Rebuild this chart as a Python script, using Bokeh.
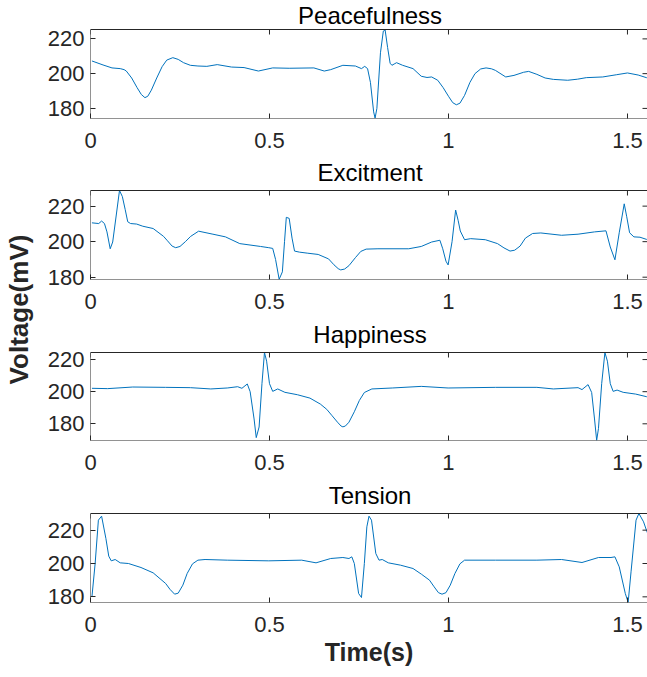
import math
from bokeh.plotting import figure
from bokeh.layouts import row, column
from bokeh.models import Range1d, FixedTicker, Label, BoxAnnotation
from bokeh.embed import file_html
from bokeh.resources import INLINE

# ---------------- data ----------------
TITLES = ["Peacefulness", "Excitment", "Happiness", "Tension"]
X_LABEL = "Time(s)"
Y_LABEL = "Voltage(mV)"
X_TICKS = [0, 0.5, 1, 1.5]
X_TICK_LABELS = ["0", "0.5", "1", "1.5"]
Y_TICKS = [180, 200, 220]
X_LIMITS = (0, 1.556)
Y_LIMITS = [(174.2, 225.4), (178.7, 228.8), (169.6, 224.4), (176.6, 230.0)]

peace_t = [0.004, 0.035, 0.06, 0.083, 0.094, 0.10, 0.115, 0.13, 0.142, 0.152, 0.16, 0.17,
           0.185, 0.2, 0.213, 0.23, 0.245, 0.26, 0.279, 0.3, 0.325, 0.354, 0.394, 0.429,
           0.469, 0.509, 0.555, 0.624, 0.653, 0.671, 0.705, 0.74, 0.757, 0.766, 0.774, 0.782,
           0.791, 0.795, 0.80, 0.81, 0.818, 0.823, 0.83, 0.837, 0.842, 0.848, 0.855, 0.872,
           0.901, 0.924, 0.94, 0.953, 0.97, 0.985, 1.0, 1.012, 1.022, 1.032, 1.045, 1.06,
           1.074, 1.09, 1.105, 1.12, 1.131, 1.16, 1.183, 1.21, 1.224, 1.247, 1.27, 1.293,
           1.333, 1.36, 1.385, 1.431, 1.47, 1.5, 1.53, 1.553, 1.562]
peace_v = [207.3, 205.0, 203.3, 202.9, 202.3, 201.5, 197.5, 192.0, 188.0, 186.2, 187.0, 190.5,
           197.5, 204.0, 207.8, 209.2, 208.2, 206.3, 204.8, 204.4, 204.2, 205.2, 203.8, 203.5,
           201.5, 203.3, 203.1, 203.3, 201.5, 202.3, 204.8, 204.4, 202.9, 204.2, 202.9, 195.0,
           178.0, 174.4, 180.0, 212.0, 224.5, 225.2, 215.0, 206.0, 204.8, 205.5, 206.3, 204.8,
           202.9, 198.5, 197.8, 198.1, 196.2, 192.0, 187.0, 183.3, 182.1, 183.0, 187.5, 195.0,
           200.0, 202.7, 203.3, 202.8, 201.9, 198.1, 199.0, 200.8, 201.3, 199.6, 197.5, 196.7,
           196.2, 196.8, 197.7, 198.1, 199.4, 200.4, 199.2, 197.7, 197.5]

excit_t = [0.004, 0.023, 0.031, 0.039, 0.046, 0.055, 0.062, 0.072, 0.081, 0.089, 0.097, 0.104,
           0.112, 0.129, 0.146, 0.175, 0.204, 0.215, 0.228, 0.238, 0.25, 0.265, 0.28, 0.302,
           0.342, 0.377, 0.417, 0.475, 0.498, 0.509, 0.517, 0.527, 0.536, 0.542, 0.547, 0.555,
           0.563, 0.57, 0.584, 0.607, 0.636, 0.665, 0.68, 0.692, 0.699, 0.71, 0.722, 0.74,
           0.755, 0.77, 0.803, 0.889, 0.924, 0.953, 0.976, 0.984, 0.993, 0.999, 1.01, 1.02,
           1.027, 1.033, 1.045, 1.062, 1.103, 1.137, 1.155, 1.172, 1.185, 1.2, 1.215, 1.235,
           1.258, 1.316, 1.362, 1.408, 1.44, 1.452, 1.465, 1.477, 1.491, 1.498, 1.506, 1.518,
           1.535, 1.553, 1.562]
excit_v = [210.6, 210.2, 211.6, 210.2, 205.5, 196.0, 199.8, 215.0, 228.8, 225.4, 218.0, 211.2,
           210.2, 209.9, 208.7, 207.4, 203.0, 200.5, 197.5, 196.6, 197.3, 200.0, 203.0, 205.9,
           204.2, 202.7, 198.9, 197.3, 196.6, 196.2, 190.0, 178.8, 183.0, 200.0, 213.7, 213.1,
           202.0, 194.7, 194.1, 193.5, 192.8, 190.3, 187.0, 184.8, 184.1, 184.6, 186.5, 191.0,
           194.5, 195.8, 196.0, 196.0, 197.3, 199.8, 200.8, 196.0, 189.0, 186.9, 200.0, 217.8,
           212.0, 206.0, 201.1, 201.7, 201.1, 198.9, 196.5, 194.7, 195.2, 197.5, 202.0, 204.6,
           204.9, 203.6, 204.2, 205.5, 206.1, 197.0, 189.8, 205.0, 221.3, 214.0, 205.0, 202.7,
           202.5, 201.3, 201.0]

happy_t = [0.004, 0.048, 0.118, 0.21, 0.279, 0.336, 0.382, 0.411, 0.423, 0.438, 0.446, 0.457,
           0.463, 0.471, 0.479, 0.486, 0.492, 0.5, 0.509, 0.523, 0.543, 0.578, 0.613, 0.642,
           0.66, 0.675, 0.69, 0.7, 0.705, 0.712, 0.722, 0.737, 0.751, 0.765, 0.786, 0.843,
           0.924, 0.999, 1.131, 1.247, 1.293, 1.362, 1.373, 1.39, 1.4, 1.408, 1.414, 1.419,
           1.428, 1.437, 1.444, 1.452, 1.46, 1.471, 1.488, 1.523, 1.553, 1.562]
happy_v = [202.1, 201.9, 202.9, 202.7, 202.5, 201.7, 202.3, 203.1, 202.1, 204.8, 200.0, 183.0,
           171.4, 178.0, 205.0, 224.4, 219.0, 205.0, 200.2, 201.7, 199.6, 198.1, 196.0, 192.3,
           189.0, 185.0, 181.0, 178.6, 178.1, 178.6, 181.0, 187.5, 194.5, 199.5, 201.7, 202.3,
           203.3, 202.3, 202.7, 202.7, 201.7, 202.5, 201.3, 204.4, 199.5, 183.0, 169.7, 177.0,
           205.0, 224.4, 219.0, 205.0, 200.2, 201.0, 199.6, 198.5, 196.9, 196.7]

tens_t = [0.004, 0.013, 0.022, 0.031, 0.043, 0.051, 0.058, 0.069, 0.083, 0.106, 0.141, 0.175,
          0.21, 0.222, 0.235, 0.245, 0.258, 0.27, 0.285, 0.3, 0.32, 0.382, 0.498, 0.59,
          0.63, 0.671, 0.705, 0.722, 0.73, 0.737, 0.749, 0.757, 0.765, 0.772, 0.778, 0.785,
          0.797, 0.806, 0.815, 0.832, 0.866, 0.901, 0.925, 0.947, 0.96, 0.972, 0.982, 0.993,
          1.005, 1.018, 1.032, 1.045, 1.131, 1.247, 1.316, 1.373, 1.419, 1.454, 1.465, 1.477,
          1.494, 1.502, 1.51, 1.524, 1.532, 1.545, 1.553, 1.562]
tens_v = [180.0, 200.0, 226.0, 228.4, 215.0, 204.4, 201.6, 202.4, 200.4, 200.0, 197.6, 194.4,
          188.0, 184.5, 181.6, 182.2, 187.0, 194.0, 199.8, 202.0, 202.4, 202.0, 201.6, 202.0,
          200.4, 203.0, 203.6, 203.0, 204.0, 200.0, 182.0, 179.6, 200.0, 222.0, 228.4, 226.0,
          206.0, 202.0, 202.4, 200.4, 199.0, 197.0, 193.5, 190.0, 186.0, 182.5, 181.6, 182.5,
          187.0, 194.0, 199.8, 202.0, 202.0, 202.0, 202.4, 200.6, 203.6, 203.6, 204.0, 198.0,
          182.0, 176.7, 195.0, 226.0, 230.0, 225.0, 220.0, 215.0]

SERIES = [(peace_t, peace_v), (excit_t, excit_v), (happy_t, happy_v), (tens_t, tens_v)]

# ---------------- style / layout ----------------
FONT = "Liberation Sans"
LINE_COLOR = "#0072BD"
AX_COLOR = "#262626"
LABEL_W = 44
PANEL_W = 603
TITLE_PX = [29, 32, 33, 33]     # space above each box (holds the title)
BOX_PX = [89, 89, 88, 89]       # height of each axes box
BOTTOM_PX = [40, 40, 40, 75]    # space below each box (tick labels, x label)
TICK_LEN = 5
TITLE_GAP_PX = [14, 18, 18, 18]  # title anchor above the box
TITLE_X = 0.781


def style_axis(ax, ticks):
    ax.ticker = FixedTicker(ticks=ticks)
    ax.major_tick_in = TICK_LEN
    ax.major_tick_out = 0
    ax.minor_tick_line_color = None
    ax.axis_line_color = None
    ax.major_tick_line_color = AX_COLOR
    ax.major_label_text_font = FONT
    ax.major_label_text_font_size = "22px"
    ax.major_label_text_color = AX_COLOR


panels = []
for i, (title, (t, v)) in enumerate(zip(TITLES, SERIES)):
    ylo, yhi = Y_LIMITS[i]
    per_px = (yhi - ylo) / BOX_PX[i]
    p = figure(width=PANEL_W, height=TITLE_PX[i] + BOX_PX[i] + BOTTOM_PX[i],
               x_range=Range1d(*X_LIMITS),
               y_range=Range1d(ylo, yhi + TITLE_PX[i] * per_px),
               output_backend="svg", toolbar_location=None,
               min_border_left=46, min_border_right=0,
               min_border_top=0, min_border_bottom=BOTTOM_PX[i])
    p.title = None
    p.grid.visible = False
    p.outline_line_color = None

    # axes box
    p.add_layout(BoxAnnotation(left=X_LIMITS[0], right=X_LIMITS[1], bottom=ylo, top=yhi,
                               fill_color=None, fill_alpha=0, line_color=AX_COLOR,
                               line_alpha=1, line_width=1, line_dash="solid"))
    p.line(t, v, line_color=LINE_COLOR, line_width=1)

    xa = p.xaxis[0]
    ya = p.yaxis[0]
    style_axis(xa, X_TICKS)
    xa.major_label_overrides = {tk: lb for tk, lb in zip(X_TICKS, X_TICK_LABELS)}
    xa.major_label_standoff = 14
    style_axis(ya, Y_TICKS)
    ya.major_label_standoff = 6

    # inward tick marks on the top and right edges of the box
    p.segment(x0=X_TICKS, y0=[yhi] * len(X_TICKS), x1=X_TICKS,
              y1=[yhi - TICK_LEN * per_px] * len(X_TICKS), line_color=AX_COLOR, line_width=1)
    p.scatter(x=[X_LIMITS[1]] * len(Y_TICKS), y=Y_TICKS, marker="dash",
              size=2 * TICK_LEN, line_color=AX_COLOR, line_width=1)

    p.add_layout(Label(x=TITLE_X, y=yhi + TITLE_GAP_PX[i] * per_px, text=title,
                       text_align="center", text_baseline="alphabetic",
                       text_font=FONT, text_font_size="24px", text_color="#000000"))

    if i == len(TITLES) - 1:
        xa.axis_label = X_LABEL
        xa.axis_label_text_font = FONT
        xa.axis_label_text_font_style = "bold"
        xa.axis_label_text_font_size = "25px"
        xa.axis_label_text_color = AX_COLOR
        xa.axis_label_standoff = 3
    panels.append(p)

total_h = sum(a + b + c for a, b, c in zip(TITLE_PX, BOX_PX, BOTTOM_PX))
lab = figure(width=LABEL_W, height=total_h, x_range=Range1d(0, LABEL_W),
             y_range=Range1d(0, total_h),
             output_backend="svg", toolbar_location=None, min_border=0,
             x_axis_location=None, y_axis_location=None)
lab.title = None
lab.grid.visible = False
lab.outline_line_color = None
lab.add_layout(Label(x=18, y=total_h - 309, text=Y_LABEL, angle=math.pi / 2,
                     text_align="center", text_baseline="middle",
                     text_font=FONT, text_font_style="bold", text_font_size="26px",
                     text_color=AX_COLOR))

layout = row(lab, column(*panels))
open("out.html", "w").write(file_html(layout, INLINE))
